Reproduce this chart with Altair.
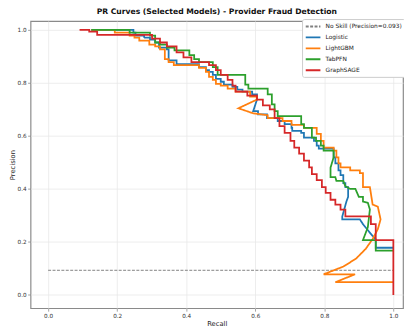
import altair as alt
import pandas as pd

# ---- data ----
baseline = 0.093
models = ["Logistic", "LightGBM", "TabPFN", "GraphSAGE"]
baseline_label = "No Skill (Precision=0.093)"

logistic_recall = [0.125,0.247,0.247,0.253,0.253,0.278,0.278,0.295,0.295,0.31,0.31,0.321,0.321,0.344,0.344,0.349,0.349,0.372,0.372,0.437,0.437,0.457,0.457,0.466,0.466,0.477,0.477,0.486,0.486,0.5,0.5,0.509,0.509,0.534,0.534,0.548,0.548,0.563,0.563,0.591,0.591,0.605,0.605,0.594,0.608,0.608,0.634,0.634,0.665,0.665,0.685,0.685,0.705,0.705,0.707,0.707,0.733,0.733,0.741,0.741,0.77,0.77,0.778,0.778,0.784,0.784,0.827,0.827,0.832,0.832,0.841,0.841,0.847,0.847,0.855,0.855,0.861,0.861,0.869,0.869,0.864,0.852,0.852,0.903,0.912,0.935,0.949,0.949,1.0]
logistic_precision = [1.0,1.0,0.989,0.989,0.978,0.978,0.97,0.97,0.963,0.963,0.952,0.952,0.933,0.933,0.926,0.926,0.885,0.885,0.87,0.87,0.859,0.859,0.848,0.848,0.841,0.841,0.83,0.83,0.815,0.815,0.804,0.804,0.793,0.793,0.785,0.785,0.774,0.774,0.767,0.767,0.756,0.756,0.737,0.693,0.693,0.681,0.681,0.667,0.667,0.656,0.656,0.644,0.644,0.63,0.63,0.619,0.619,0.611,0.611,0.593,0.593,0.581,0.581,0.563,0.563,0.552,0.552,0.519,0.519,0.496,0.496,0.47,0.47,0.452,0.452,0.422,0.422,0.407,0.407,0.37,0.352,0.296,0.285,0.285,0.267,0.23,0.21,0.178,0.178]

lightgbm_recall = [0.125,0.193,0.193,0.236,0.236,0.25,0.25,0.264,0.264,0.293,0.293,0.31,0.31,0.324,0.324,0.338,0.338,0.349,0.349,0.364,0.364,0.437,0.437,0.457,0.457,0.466,0.466,0.477,0.477,0.486,0.486,0.5,0.5,0.52,0.52,0.543,0.543,0.585,0.585,0.605,0.605,0.551,0.594,0.636,0.636,0.679,0.679,0.705,0.705,0.741,0.741,0.778,0.778,0.79,0.79,0.798,0.798,0.827,0.827,0.835,0.835,0.841,0.841,0.847,0.847,0.875,0.875,0.903,0.903,0.912,0.912,0.932,0.94,0.955,0.963,0.955,0.94,0.92,0.892,0.855,0.798,0.889,0.832,1.0]
lightgbm_precision = [1.0,1.0,0.989,0.989,0.978,0.978,0.97,0.97,0.959,0.959,0.944,0.944,0.937,0.937,0.926,0.926,0.889,0.889,0.878,0.878,0.867,0.867,0.856,0.856,0.841,0.841,0.822,0.822,0.811,0.811,0.796,0.796,0.789,0.789,0.778,0.778,0.767,0.767,0.748,0.748,0.737,0.704,0.685,0.678,0.667,0.667,0.656,0.656,0.641,0.641,0.63,0.63,0.607,0.607,0.581,0.581,0.556,0.556,0.544,0.544,0.519,0.519,0.496,0.496,0.481,0.481,0.47,0.47,0.459,0.459,0.407,0.407,0.341,0.333,0.285,0.248,0.211,0.174,0.137,0.107,0.078,0.078,0.048,0.048]

tabpfn_recall = [0.125,0.236,0.236,0.295,0.295,0.31,0.31,0.324,0.324,0.344,0.344,0.366,0.366,0.409,0.409,0.423,0.423,0.437,0.437,0.477,0.477,0.491,0.491,0.571,0.571,0.58,0.58,0.636,0.636,0.648,0.648,0.656,0.656,0.665,0.665,0.733,0.733,0.741,0.741,0.764,0.764,0.776,0.776,0.79,0.79,0.798,0.798,0.813,0.827,0.827,0.818,0.818,0.832,0.835,0.855,0.861,0.875,0.89,0.9,0.912,0.912,0.926,0.932,0.926,0.912,0.949,0.949,1.0]
tabpfn_precision = [1.0,1.0,0.989,0.989,0.978,0.978,0.952,0.952,0.944,0.944,0.933,0.933,0.922,0.922,0.904,0.904,0.889,0.889,0.878,0.878,0.859,0.859,0.83,0.83,0.793,0.793,0.778,0.778,0.756,0.756,0.719,0.719,0.693,0.693,0.674,0.674,0.644,0.644,0.63,0.63,0.593,0.593,0.581,0.581,0.563,0.563,0.544,0.544,0.544,0.519,0.48,0.444,0.444,0.43,0.43,0.41,0.4,0.4,0.37,0.37,0.352,0.348,0.322,0.255,0.207,0.207,0.167,0.167]

graphsage_recall = [0.091,0.119,0.119,0.142,0.142,0.301,0.301,0.324,0.324,0.344,0.344,0.372,0.372,0.392,0.392,0.415,0.415,0.466,0.466,0.486,0.486,0.5,0.5,0.52,0.52,0.534,0.534,0.543,0.543,0.577,0.577,0.605,0.605,0.622,0.622,0.642,0.642,0.656,0.656,0.67,0.67,0.685,0.685,0.702,0.702,0.713,0.713,0.727,0.727,0.741,0.741,0.756,0.756,0.764,0.764,0.778,0.778,0.793,0.793,0.804,0.804,0.818,0.818,0.832,0.832,0.847,0.847,0.861,0.861,0.935,0.935,0.949,0.949,1.0,1.0]
graphsage_precision = [1.0,1.0,0.993,0.993,0.981,0.981,0.967,0.967,0.952,0.952,0.937,0.937,0.915,0.915,0.896,0.896,0.878,0.878,0.867,0.867,0.848,0.848,0.83,0.83,0.811,0.811,0.789,0.789,0.767,0.767,0.752,0.752,0.737,0.737,0.715,0.715,0.7,0.7,0.667,0.667,0.637,0.637,0.611,0.611,0.581,0.581,0.556,0.556,0.533,0.533,0.507,0.507,0.481,0.481,0.456,0.456,0.433,0.433,0.407,0.407,0.385,0.385,0.359,0.359,0.341,0.341,0.322,0.322,0.296,0.296,0.267,0.267,0.207,0.207,0.0]

series = {
    "Logistic": (logistic_recall, logistic_precision),
    "LightGBM": (lightgbm_recall, lightgbm_precision),
    "TabPFN": (tabpfn_recall, tabpfn_precision),
    "GraphSAGE": (graphsage_recall, graphsage_precision),
}

ticks = [0.0, 0.2, 0.4, 0.6, 0.8, 1.0]
domain_names = [baseline_label] + models
colors = ["#808080", "#1f77b4", "#ff7f0e", "#2ca02c", "#d62728"]
dashes = [[3, 1.5], [1, 0], [1, 0], [1, 0], [1, 0]]

FONT = "DejaVu Sans"

xenc = alt.X("recall:Q", scale=alt.Scale(domain=[-0.051, 1.028], nice=False, zero=False),
             axis=alt.Axis(values=ticks, format=".1f", title="Recall"))
yenc = alt.Y("precision:Q", scale=alt.Scale(domain=[-0.05, 1.033], nice=False, zero=False),
             axis=alt.Axis(values=ticks, format=".1f", title="Precision"))
cenc = alt.Color("model:N", scale=alt.Scale(domain=domain_names, range=colors),
                 legend=alt.Legend(title=None))
denc = alt.StrokeDash("model:N", scale=alt.Scale(domain=domain_names, range=dashes),
                      legend=alt.Legend(title=None))

base_df = pd.DataFrame({"recall": [0.0, 1.0], "precision": [baseline, baseline],
                        "model": [baseline_label] * 2, "idx": [0, 1]})
layers = [alt.Chart(base_df).mark_line(strokeWidth=1, clip=True).encode(
    x=xenc, y=yenc, color=cenc, strokeDash=denc, order="idx:Q")]

for m in models:
    r, p = series[m]
    df = pd.DataFrame({"recall": r, "precision": p, "model": [m] * len(r), "idx": list(range(len(r)))})
    layers.append(alt.Chart(df).mark_line(strokeWidth=1.8, clip=True).encode(
        x=xenc, y=yenc, color=cenc, strokeDash=denc, order="idx:Q"))

chart = alt.layer(*layers).properties(
    width=380, height=293,
    autosize=alt.AutoSizeParams(type="none"),
    padding={"left": 23, "top": 10, "right": 1, "bottom": 22},
    title=alt.TitleParams("PR Curves (Selected Models) - Provider Fraud Detection",
                          fontSize=7.8, fontWeight="bold", font=FONT, color="#111",
                          anchor="middle", offset=3),
).configure_view(
    stroke="#8a8a8a", strokeWidth=1.2
).configure_axis(
    labelFont=FONT, titleFont=FONT, labelFontSize=5.8, titleFontSize=6.9,
    labelColor="#333", titleColor="#222", titleFontWeight="normal",
    domain=False, tickColor="#8a8a8a", tickSize=3, tickWidth=0.8,
    gridColor="#e8e8e8", gridWidth=0.8, labelPadding=1.5, titlePadding=2,
).configure_legend(
    orient="none", legendX=277, legendY=-2, padding=2.5, labelFont=FONT, labelFontSize=6.0,
    labelColor="#222", symbolType="M-1,0H3", symbolSize=56, symbolStrokeWidth=2,
    labelOffset=11.5, rowPadding=2.2, strokeColor="#cccccc", fillColor="white",
    cornerRadius=2,
)

chart.save("out.html", embed_options={"renderer": "svg", "actions": False})
